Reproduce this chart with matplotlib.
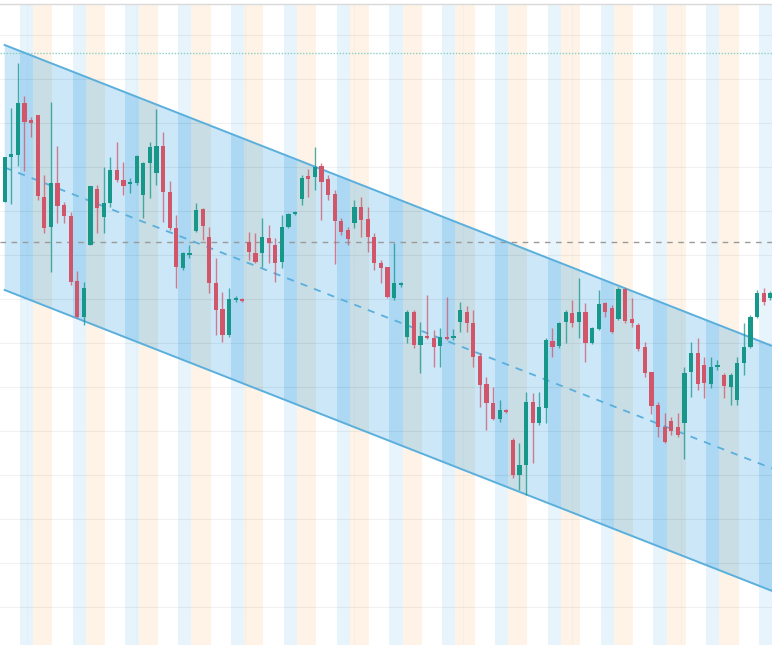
import numpy as np
import matplotlib.pyplot as plt
from matplotlib.patches import Polygon

# OHLC prices, one candle per session
opens = [7.98, 8.43, 8.45, 8.97, 8.80, 8.85, 8.03, 7.73, 8.17, 7.95,
         7.84, 7.19, 6.83, 7.55, 8.11, 7.83, 7.97, 8.30, 8.20, 8.16,
         8.17, 8.05, 8.37, 8.27, 8.54, 8.08, 7.72, 7.32, 7.45, 7.69,
         7.91, 7.63, 7.17, 6.91, 6.65, 7.00, 7.01, 7.58, 7.47, 7.47,
         7.62, 7.55, 7.38, 7.73, 7.86, 8.01, 8.23, 8.23, 8.34, 8.21,
         8.06, 7.79, 7.70, 7.77, 7.93, 7.81, 7.63, 7.37, 7.33, 7.02,
         7.15, 6.63, 6.88, 6.55, 6.64, 6.62, 6.54, 6.63, 6.62, 6.78,
         6.88, 6.77, 6.44, 6.16, 5.97, 5.81, 5.90, 5.60, 5.25, 5.35,
         5.98, 5.77, 5.92, 6.59, 6.54, 6.78, 6.87, 6.78, 6.88, 6.57,
         6.71, 6.97, 6.92, 6.81, 7.11, 6.81, 6.75, 6.53, 6.28, 5.95,
         5.73, 5.79, 5.73, 5.77, 6.28, 6.47, 6.35, 6.16, 6.33, 6.25,
         6.13, 6.00, 6.37, 6.53, 6.83, 7.07, 7.02]
highs = [8.43, 8.92, 9.37, 9.04, 8.83, 8.85, 8.25, 8.98, 8.54, 7.98,
         7.88, 7.29, 7.18, 8.14, 8.15, 8.33, 8.43, 8.58, 8.38, 8.22,
         8.45, 8.38, 8.58, 8.91, 8.68, 8.19, 7.85, 7.48, 7.55, 7.97,
         7.92, 7.73, 7.42, 7.08, 7.12, 7.04, 7.02, 7.68, 7.67, 7.82,
         7.75, 7.62, 7.85, 7.87, 7.89, 8.25, 8.31, 8.53, 8.37, 8.25,
         8.10, 7.82, 7.73, 8.00, 8.03, 7.93, 7.67, 7.40, 7.33, 7.57,
         7.18, 6.90, 6.90, 6.78, 7.05, 6.70, 6.72, 7.03, 6.71, 6.98,
         6.94, 6.90, 6.47, 6.23, 6.13, 6.00, 5.91, 5.62, 5.57, 6.08,
         6.07, 6.08, 6.62, 6.72, 6.78, 6.90, 7.00, 7.22, 6.97, 6.73,
         7.10, 6.98, 6.95, 7.13, 7.12, 7.02, 6.77, 6.58, 6.28, 5.98,
         5.87, 5.83, 5.87, 6.33, 6.58, 6.62, 6.43, 6.43, 6.40, 6.27,
         6.27, 6.43, 6.77, 6.85, 7.10, 7.12, 7.09]
lows = [7.98, 7.96, 8.34, 8.29, 8.63, 8.00, 7.67, 7.28, 7.77, 7.77,
        7.15, 6.82, 6.75, 7.55, 7.67, 7.67, 7.93, 8.18, 8.05, 8.07,
        8.15, 7.82, 8.02, 8.15, 7.78, 7.70, 7.12, 7.30, 7.42, 7.68,
        7.60, 7.07, 6.65, 6.58, 6.63, 6.98, 6.98, 7.40, 7.37, 7.33,
        7.37, 7.18, 7.32, 7.72, 7.85, 7.95, 8.03, 8.10, 7.80, 8.00,
        7.36, 7.65, 7.55, 7.72, 7.63, 7.48, 7.30, 7.17, 7.02, 7.00,
        7.13, 6.57, 6.52, 6.27, 6.61, 6.33, 6.33, 6.60, 6.60, 6.68,
        6.68, 6.33, 5.93, 5.70, 5.80, 5.78, 5.87, 5.22, 5.10, 5.05,
        5.37, 5.75, 5.77, 6.43, 6.52, 6.57, 6.73, 6.62, 6.38, 6.56,
        6.70, 6.83, 6.67, 6.80, 6.77, 6.73, 6.49, 6.23, 5.86, 5.63,
        5.57, 5.65, 5.63, 5.41, 6.03, 6.10, 6.02, 6.12, 6.30, 6.02,
        5.95, 5.95, 6.25, 6.52, 6.82, 6.95, 7.00]
closes = [8.43, 8.46, 8.97, 8.78, 8.77, 8.04, 7.72, 8.17, 7.94, 7.84,
          7.18, 6.83, 7.12, 8.14, 7.92, 7.97, 8.30, 8.20, 8.14, 8.17,
          8.44, 8.37, 8.53, 8.54, 8.08, 7.72, 7.33, 7.47, 7.47, 7.90,
          7.74, 7.17, 6.90, 6.65, 7.01, 7.02, 6.99, 7.48, 7.38, 7.63,
          7.57, 7.37, 7.73, 7.86, 7.88, 8.22, 8.21, 8.33, 8.18, 8.05,
          7.79, 7.68, 7.61, 7.93, 7.80, 7.63, 7.37, 7.32, 7.03, 7.17,
          7.17, 6.88, 6.55, 6.64, 6.62, 6.53, 6.63, 6.61, 6.64, 6.90,
          6.77, 6.43, 6.15, 5.97, 5.81, 5.90, 5.88, 5.25, 5.35, 5.98,
          5.77, 5.93, 6.60, 6.53, 6.77, 6.88, 6.77, 6.88, 6.57, 6.72,
          6.96, 6.88, 6.68, 7.11, 6.79, 6.77, 6.51, 6.27, 5.94, 5.73,
          5.58, 5.69, 5.65, 6.27, 6.47, 6.16, 6.17, 6.33, 6.35, 6.14,
          6.25, 6.37, 6.53, 6.83, 7.07, 6.98, 7.07]

# descending channel (start / end of the drawn lines)
channel_x = [0.0, 116.3]
channel_upper = [9.55, 6.54]
channel_lower = [7.10, 4.09]

level_dashed = 7.58   # grey dashed horizontal level
level_dotted = 9.47   # teal dotted horizontal level

GREEN = '#16978a'
RED = '#d2566a'
CHAN = '#5aafdc'

o = np.array(opens)
h = np.array(highs)
l = np.array(lows)
c = np.array(closes)
idx = np.arange(len(o))

fig = plt.figure(figsize=(7.72, 6.45), dpi=100)
ax = fig.add_axes([0, 0, 1, 641 / 645])
ax.set_xlim(-0.71, 116.26)
ax.set_ylim(3.55, 9.96)

# session stripes in the background
for k in range(-1, 16):
    b0 = 2.3 + 8 * k
    ax.axvspan(b0, b0 + 2.0, color='#e8f4fc', lw=0, zorder=0)
    ax.axvspan(b0 + 2.0, b0 + 4.9, color='#fef3e6', lw=0, zorder=0)

# channel fill, with the stripes showing through a bit stronger
pts = [(channel_x[0], channel_upper[0]), (channel_x[1], channel_upper[1]),
       (channel_x[1], channel_lower[1]), (channel_x[0], channel_lower[0])]
chan = Polygon(pts, closed=True, facecolor='#cbe7f8', edgecolor='none', zorder=1)
ax.add_patch(chan)
for k in range(-1, 16):
    b0 = 2.3 + 8 * k
    s1 = ax.axvspan(b0, b0 + 2.0, color='#acd8f3', lw=0, zorder=1.1)
    s2 = ax.axvspan(b0 + 2.0, b0 + 4.9, color='#c8dde4', lw=0, zorder=1.1)
    s1.set_clip_path(chan)
    s2.set_clip_path(chan)

# faint grid
for y in np.arange(9.65, 3.5, -0.44):
    ax.axhline(y, color='k', alpha=0.055, lw=0.8, zorder=1.5)
for x in np.arange(3.4, 117, 16.5):
    ax.axvline(x, color='#6aa8d8', alpha=0.05, lw=0.8, zorder=1.5)

# reference levels
ax.axhline(level_dashed, color='#9a9a9a', lw=1.0, ls=(0, (4, 4)), zorder=2)
ax.axhline(level_dotted, color='#8ccfc6', lw=1.0, ls=(0, (1, 1.2)), zorder=2)

# channel lines
mid = [(a + b) / 2 for a, b in zip(channel_upper, channel_lower)]
ax.plot(channel_x, channel_upper, color=CHAN, lw=1.4, zorder=2.5)
ax.plot(channel_x, channel_lower, color=CHAN, lw=1.4, zorder=2.5)
ax.plot(channel_x, mid, color=CHAN, lw=1.3, ls=(0, (4, 4)), zorder=2.5)

# candles
up = c >= o
cols = np.where(up, GREEN, RED)
ax.vlines(idx, l, h, colors=cols, lw=1.0, alpha=0.75, zorder=3)
body = np.maximum(np.abs(c - o), 0.025)
ax.bar(idx, body, bottom=np.minimum(o, c), width=0.62, color=cols,
       lw=0, zorder=4)

ax.set_xticks([])
ax.set_yticks([])
for side in ['left', 'right', 'bottom']:
    ax.spines[side].set_visible(False)
ax.spines['top'].set_color('#d9d9d9')
ax.spines['top'].set_linewidth(1.0)

fig.savefig('out.png', dpi=100)
